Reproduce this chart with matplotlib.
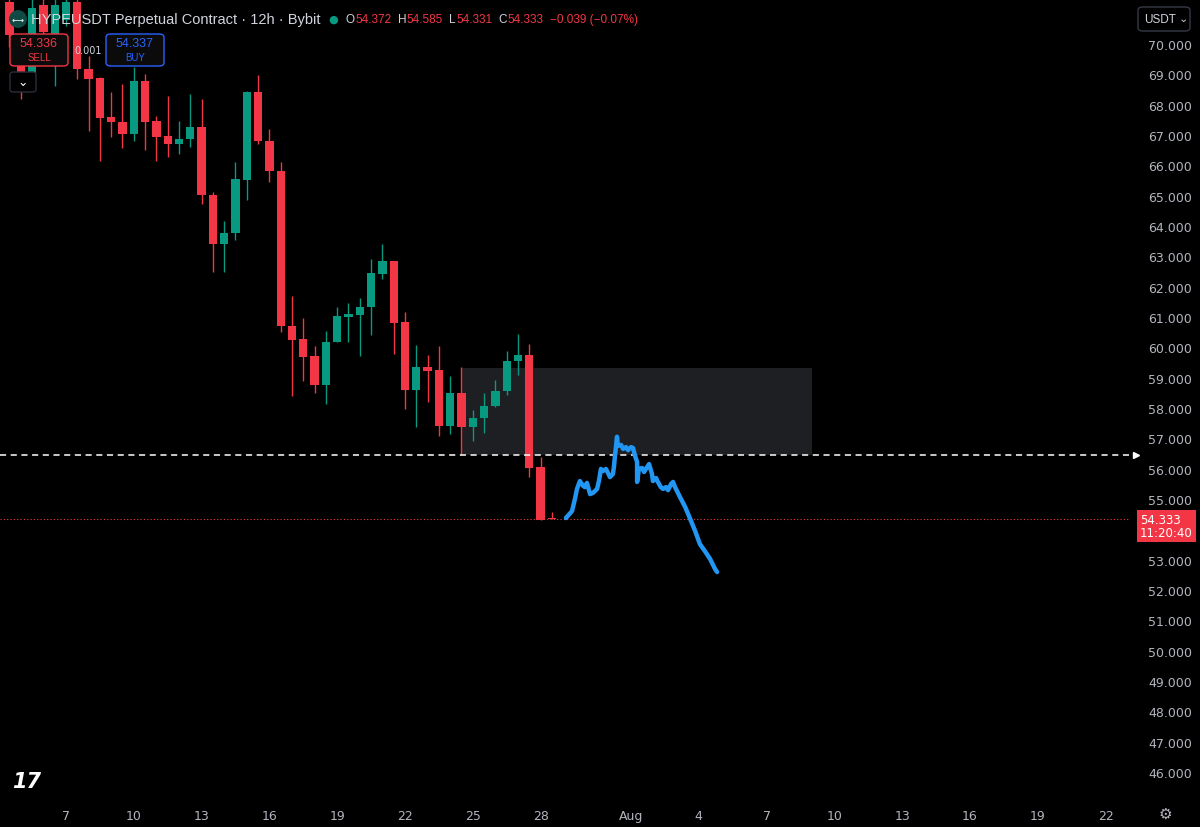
import numpy as np
import matplotlib.pyplot as plt
from matplotlib.patches import Rectangle, FancyBboxPatch
import matplotlib.transforms as mtransforms

# 12h candles, x = day of July (Aug 1 = 32)
days = [4.5, 5, 5.5, 6, 6.5, 7, 7.5, 8, 8.5, 9, 9.5, 10, 10.5, 11, 11.5, 12, 12.5,
        13, 13.5, 14, 14.5, 15, 15.5, 16, 16.5, 17, 17.5, 18, 18.5, 19, 19.5, 20,
        20.5, 21, 21.5, 22, 22.5, 23, 23.5, 24, 24.5, 25, 25.5, 26, 26.5, 27, 27.5,
        28, 28.5]
opens = [71.4, 69.3, 68.9, 71.3, 69.8, 70.8, 71.4, 69.18, 68.88, 67.59, 67.43, 67.03,
         68.78, 67.46, 66.97, 66.70, 66.87, 67.26, 65.02, 63.41, 63.77, 65.52, 68.42,
         66.80, 65.81, 60.70, 60.27, 59.71, 58.76, 60.18, 61.00, 61.07, 61.33, 62.42,
         62.85, 60.83, 58.59, 59.35, 59.25, 57.41, 58.49, 57.37, 57.67, 58.06, 58.56,
         59.55, 59.75, 56.05, 54.372]
highs = [71.7, 69.6, 71.5, 71.5, 71.6, 71.6, 71.7, 69.6, 68.9, 68.42, 68.68, 69.24,
         69.01, 67.63, 68.29, 67.46, 68.35, 68.19, 65.12, 64.16, 66.11, 68.45, 68.98,
         67.20, 66.11, 61.69, 60.97, 60.04, 60.54, 61.33, 61.46, 61.63, 62.91, 63.41,
         62.85, 61.16, 60.08, 59.75, 60.04, 59.05, 59.35, 57.93, 58.49, 58.92, 59.88,
         60.44, 60.11, 56.38, 54.585]
lows = [69.9, 68.19, 68.8, 70.2, 68.6, 70.6, 68.85, 67.13, 66.14, 66.93, 66.57, 66.80,
        66.51, 66.14, 66.27, 66.37, 66.60, 64.73, 62.48, 62.48, 63.54, 64.86, 66.70,
        65.45, 60.51, 58.39, 58.89, 58.49, 58.13, 60.18, 60.18, 59.71, 60.41, 62.25,
        59.78, 57.97, 57.37, 58.20, 57.08, 57.14, 56.45, 56.91, 57.17, 58.03, 58.43,
        59.09, 55.72, 54.31, 54.331]
closes = [70.3, 69.0, 71.2, 70.4, 71.3, 71.4, 69.18, 68.85, 67.56, 67.43, 67.03, 68.78,
          67.43, 66.93, 66.70, 66.87, 67.26, 65.02, 63.41, 63.77, 65.55, 68.42, 66.80,
          65.81, 60.70, 60.24, 59.68, 58.76, 60.18, 61.03, 61.10, 61.33, 62.45, 62.85,
          60.80, 58.59, 59.35, 59.22, 57.41, 58.49, 57.37, 57.67, 58.06, 58.56, 59.55,
          59.75, 56.02, 54.31, 54.333]

# hand drawn projection
path_days = [29.12, 29.39, 29.52, 29.61, 29.74, 29.88, 29.96, 30.05, 30.19, 30.32,
             30.50, 30.58, 30.67, 30.76, 30.89, 30.98, 31.07, 31.20, 31.25, 31.29,
             31.34, 31.38, 31.42, 31.56, 31.65, 31.78, 31.87, 32.00, 32.09, 32.18,
             32.27, 32.27, 32.35, 32.49, 32.58, 32.71, 32.80, 32.93, 32.97, 33.11,
             33.19, 33.32, 33.42, 33.55, 33.64, 33.77, 33.86, 33.95, 34.17, 34.40,
             34.62, 34.84, 35.05, 35.27, 35.50, 35.72, 35.81]
path_prices = [54.37, 54.60, 55.00, 55.33, 55.59, 55.43, 55.39, 55.53, 55.16, 55.20,
               55.33, 55.59, 55.99, 55.92, 55.99, 55.86, 55.72, 55.82, 56.09, 56.42,
               56.75, 57.05, 56.75, 56.78, 56.65, 56.71, 56.61, 56.71, 56.68, 56.42,
               56.22, 55.56, 55.99, 56.02, 55.89, 56.05, 56.15, 55.82, 55.59, 55.69,
               55.56, 55.39, 55.33, 55.39, 55.29, 55.49, 55.56, 55.39, 55.06, 54.73,
               54.34, 53.94, 53.51, 53.28, 53.02, 52.69, 52.59]

zone_start, zone_end = 24.5, 40.0
zone_low, zone_high = 56.449, 59.318
last_price = 54.333

# 54.000 sits under the price tag
price_ticks = [p for p in range(46, 71) if p != 54]
date_ticks = [7, 10, 13, 16, 19, 22, 25, 28, 32, 35, 38, 41, 44, 47, 50, 53]
date_labels = ['7', '10', '13', '16', '19', '22', '25', '28', 'Aug', '4', '7', '10',
               '13', '16', '19', '22']

UP = '#089981'
DOWN = '#f23645'
TXT = '#b2b5be'
HDR = ['Liberation Sans', 'DejaVu Sans']

W, H = 1200, 828
fig = plt.figure(figsize=(12, 8.28), dpi=100, facecolor='black')
ax = fig.add_axes([0, 28 / H, 1130 / W, 800 / H])
ax.set_facecolor('black')
ax.set_xlim(4.08, 54.08)
ax.set_ylim(45.107, 71.484)
for s in ax.spines.values():
    s.set_visible(False)

# zone
ax.add_patch(Rectangle((zone_start, zone_low), zone_end - zone_start, zone_high - zone_low,
                       facecolor='#1e1f22', edgecolor='none', zorder=1))

# candles
o = np.array(opens); c = np.array(closes)
cols = [UP if cc >= oo else DOWN for oo, cc in zip(o, c)]
ax.vlines(days, lows, highs, colors=cols, lw=1, zorder=3)
body = np.maximum(np.abs(c - o), 0.04)
ax.bar(days, body, bottom=np.minimum(o, c), width=0.37, color=cols, zorder=4)

# lines
ax.axhline(zone_low, color='white', lw=1.1, ls=(0, (4, 3)), zorder=5)
ax.plot([54.33], [zone_low], marker='>', color='white', ms=5, clip_on=False, zorder=6)
ax.axhline(last_price, color=DOWN, lw=0.8, ls=(0, (1, 2)), zorder=2)
ax.plot(path_days, path_prices, color='#2196f3', lw=3.2, solid_capstyle='round',
        solid_joinstyle='round', zorder=7)

# axes ticks
ax.yaxis.tick_right()
ax.set_yticks(price_ticks)
ax.set_yticklabels([f'{p}.000' for p in price_ticks])
ax.set_xticks(date_ticks)
ax.set_xticklabels(date_labels)
ax.tick_params(axis='y', length=0, pad=13, labelsize=9, labelcolor=TXT)
ax.tick_params(axis='x', length=0, pad=7, labelsize=9, labelcolor=TXT)

# price tag
trans = mtransforms.blended_transform_factory(ax.transAxes, ax.transData)
ax.text(1.0 + 10 / 1130, 54.11, '54.333\n11:20:40', transform=trans, color='white',
        fontsize=8.5, va='center', ha='left', linespacing=1.0, clip_on=False, zorder=10,
        bbox=dict(boxstyle='square,pad=0.25', fc=DOWN, ec='none'))


def fx(x):
    return x / W


def fy(y):
    return 1 - y / H


# header
fig.text(fx(18), fy(20), '⟷', color='white', fontsize=6, ha='center', va='center',
         bbox=dict(boxstyle='circle,pad=0.35', fc='#0f4a44', ec='none'))
fig.text(fx(31), fy(20), 'HYPEUSDT Perpetual Contract · 12h · Bybit', color='#d1d4dc',
         fontsize=10.5, va='center', ha='left', family=HDR)
fig.text(fx(333), fy(20), '●', color=UP, fontsize=8, ha='center', va='center')
ohlc = [('O', 346, 355, '54.372'), ('H', 398, 406, '54.585'),
        ('L', 449, 456, '54.331'), ('C', 498, 507, '54.333')]
for k, xk, xv, v in ohlc:
    fig.text(fx(xk), fy(20), k, color='#d1d4dc', fontsize=8.5, va='center', family=HDR)
    fig.text(fx(xv), fy(20), v, color=DOWN, fontsize=8.5, va='center', family=HDR)
fig.text(fx(550), fy(20), '−0.039 (−0.07%)', color=DOWN, fontsize=8.5, va='center',
         family=HDR)

# sell / buy
for x0, col, val, lab in [(10, DOWN, '54.336', 'SELL'), (106, '#2962ff', '54.337', 'BUY')]:
    fig.patches.append(FancyBboxPatch((fx(x0), fy(67)), 58 / W, 32 / H,
                                      boxstyle='round,pad=0,rounding_size=0.004',
                                      transform=fig.transFigure, fc='#0b0b0b', ec=col,
                                      lw=1, zorder=20))
    fig.text(fx(x0 + 29), fy(44), val, color=col, fontsize=9, ha='center', va='center',
             zorder=21, family=HDR)
    fig.text(fx(x0 + 29), fy(58), lab, color=col, fontsize=7, ha='center', va='center',
             zorder=21, family=HDR)
fig.text(fx(88), fy(51), '0.001', color='#d1d4dc', fontsize=7, ha='center', va='center')
fig.patches.append(FancyBboxPatch((fx(10), fy(93)), 26 / W, 20 / H,
                                  boxstyle='round,pad=0,rounding_size=0.003',
                                  transform=fig.transFigure, fc='black', ec='#2a2e39',
                                  lw=1, zorder=20))
fig.text(fx(23), fy(83), '⌄', color='white', fontsize=9, ha='center', va='center', zorder=21)

# currency button
fig.patches.append(FancyBboxPatch((fx(1138), fy(32)), 52 / W, 24 / H,
                                  boxstyle='round,pad=0,rounding_size=0.004',
                                  transform=fig.transFigure, fc='black', ec='#363a45',
                                  lw=1, zorder=20))
fig.text(fx(1144), fy(20), 'USDT', color='#d1d4dc', fontsize=8.5, va='center', zorder=21,
         family=HDR)
fig.text(fx(1183), fy(19), '⌄', color='#d1d4dc', fontsize=8, ha='center', va='center',
         zorder=21)

# logo and settings
fig.text(fx(12), fy(782), '17', color='white', fontsize=15, fontweight='bold',
         fontstyle='italic', va='center', ha='left')
fig.text(fx(1165), fy(814), '⚙', color=TXT, fontsize=11, ha='center', va='center')

fig.savefig('out.png', dpi=100, facecolor='black')
